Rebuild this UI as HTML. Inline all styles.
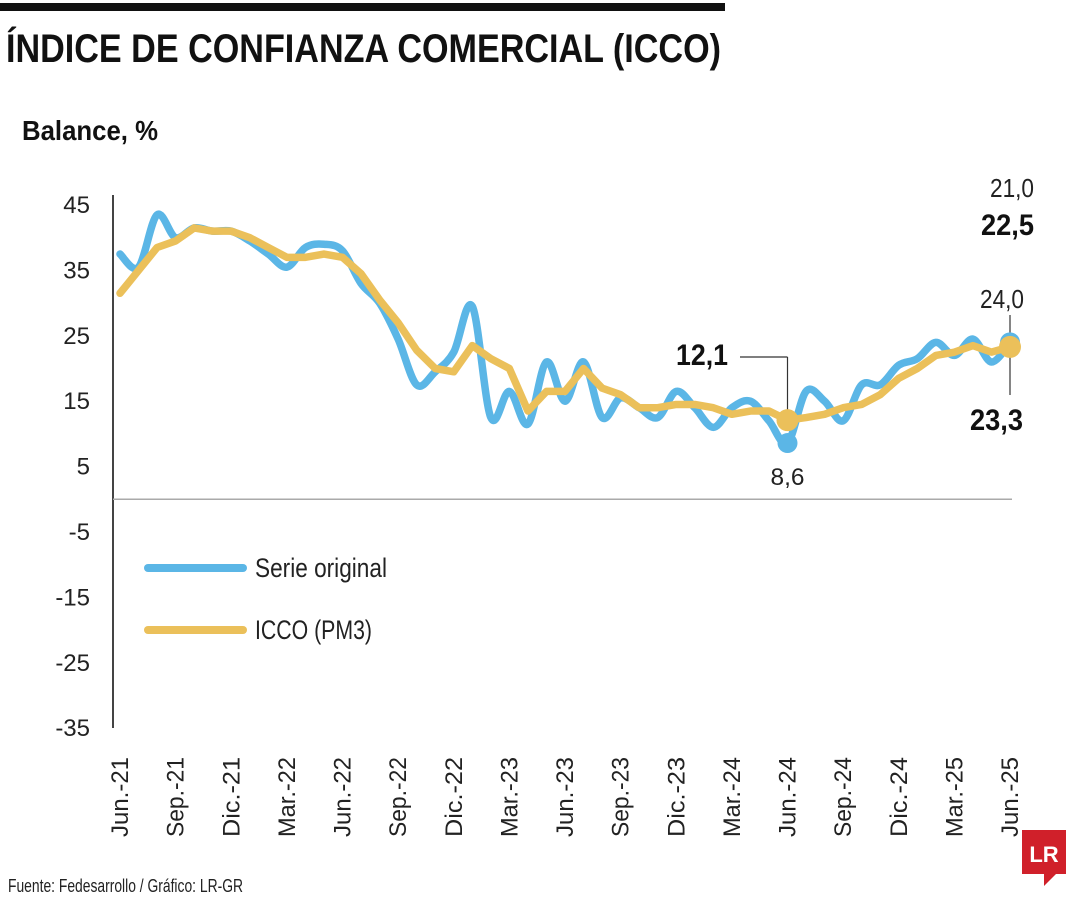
<!DOCTYPE html>
<html><head><meta charset="utf-8"><style>
body{margin:0;background:#fff;}
svg text{font-family:"Liberation Sans Narrow","Liberation Sans",sans-serif;}
</style></head><body>
<svg width="1080" height="900" viewBox="0 0 1080 900" xmlns="http://www.w3.org/2000/svg">
<rect x="0" y="3" width="725" height="8" fill="#111"/>
<text x="6" y="62" font-size="40" font-weight="bold" fill="#111" textLength="715" lengthAdjust="spacingAndGlyphs">ÍNDICE DE CONFIANZA COMERCIAL (ICCO)</text>
<text x="22" y="140" font-size="28" font-weight="bold" fill="#111" textLength="136" lengthAdjust="spacingAndGlyphs">Balance, %</text>
<g id="axes"></g>
<g id="marks"></g>
<g>
<line x1="148" y1="568" x2="243" y2="568" stroke="#5bb6e6" stroke-width="8" stroke-linecap="round"/>
<text x="255" y="577" font-size="27" fill="#222" textLength="132" lengthAdjust="spacingAndGlyphs">Serie original</text>
<line x1="148" y1="630" x2="243" y2="630" stroke="#ebc05a" stroke-width="8" stroke-linecap="round"/>
<text x="255" y="639" font-size="27" fill="#222" textLength="117" lengthAdjust="spacingAndGlyphs">ICCO (PM3)</text>
</g>
<text x="8" y="892" font-size="18" fill="#222" textLength="235" lengthAdjust="spacingAndGlyphs">Fuente: Fedesarrollo / Gráfico: LR-GR</text>
<g>
<rect x="1022" y="830" width="44" height="44" fill="#d0202a"/>
<polygon points="1044,874 1056,874 1044,886" fill="#d0202a"/>
<text x="1044" y="862" font-size="22" font-weight="bold" fill="#fff" text-anchor="middle" font-family="Liberation Serif, serif">LR</text>
</g>
</svg>
<script>
const yTicks=[45,35,25,15,5,-5,-15,-25,-35];
const xLabels=["Jun.-21","Sep.-21","Dic.-21","Mar.-22","Jun.-22","Sep.-22","Dic.-22","Mar.-23","Jun.-23","Sep.-23","Dic.-23","Mar.-24","Jun.-24","Sep.-24","Dic.-24","Mar.-25","Jun.-25"];
const original=[37.5,35.5,43.5,40,41.5,41,41,39.5,37.5,35.5,38.5,39,38,33,30,24.5,17.5,19.5,22.5,29.5,12.5,16.5,11.5,21,15,21,12.5,15.5,14,12.5,16.5,14,11,14,15,12,8.6,16.5,15,12,17.5,17.5,20.5,21.5,24,22,24.5,21,24];
const icco=[31.5,35,38.5,39.5,41.5,41,41,40,38.5,37,37,37.5,37,34.5,30.5,27,22.8,20,19.5,23.5,21.5,20,13.5,16.5,16.5,20,17,16,14,14,14.5,14.5,14,13,13.5,13.5,12.1,12.5,13,14,14.5,16,18.5,20,22,22.5,23.5,22.5,23.3];
</script>
<script>
const N=original.length;
const NS="http://www.w3.org/2000/svg";
const x0=120,x1=1010;
const xs=i=>x0+(x1-x0)*i/(N-1);
const ys=v=>205+(45-v)*6.54;
const axes=document.getElementById('axes'),marks=document.getElementById('marks');
function mk(tag,attrs,parent){const e=document.createElementNS(NS,tag);for(const k in attrs)e.setAttribute(k,attrs[k]);parent.appendChild(e);return e;}
let e=mk('line',{x1:113,y1:195,x2:113,y2:728,stroke:'#444','stroke-width':2},axes);


e=mk('line',{x1:113,y1:ys(0),x2:1012,y2:ys(0),stroke:'#aaa','stroke-width':1.5},axes);


yTicks.forEach(v=>{const t=mk('text',{x:90,y:ys(v)+8,'font-size':24,'text-anchor':'end',fill:'#222'},axes);t.textContent=v;

});
xLabels.forEach((l,i)=>{const x=xs(i*3)+8;const t=mk('text',{x:0,y:0,'font-size':24,'text-anchor':'end',fill:'#222',transform:`translate(${x},757) rotate(-90)`,textLength:80,lengthAdjust:'spacingAndGlyphs'},axes);t.textContent=l;

});
function smooth(vals){const p=vals.map((v,i)=>[xs(i),ys(v)]);let d=`M${p[0][0]},${p[0][1]}`;
for(let i=0;i<p.length-1;i++){const a=p[Math.max(0,i-1)],b=p[i],c=p[i+1],d2=p[Math.min(p.length-1,i+2)];
d+=` C${b[0]+(c[0]-a[0])/6},${b[1]+(c[1]-a[1])/6} ${c[0]-(d2[0]-b[0])/6},${c[1]-(d2[1]-b[1])/6} ${c[0]},${c[1]}`;}return d;}
function lin(vals){return vals.map((v,i)=>(i?'L':'M')+xs(i)+','+ys(v)).join(' ');}
e=mk('path',{d:smooth(original),fill:'none',stroke:'#5bb6e6','stroke-width':7.5,'stroke-linejoin':'round','stroke-linecap':'round'},marks);


e=mk('path',{d:lin(icco),fill:'none',stroke:'#ebc05a','stroke-width':7.5,'stroke-linejoin':'round','stroke-linecap':'round'},marks);


const mi=36;
e=mk('circle',{cx:xs(mi),cy:ys(original[mi]),r:10,fill:'#5bb6e6'},marks);


e=mk('line',{x1:740,y1:357,x2:xs(mi),y2:357,stroke:'#333','stroke-width':1.2},marks);


e=mk('line',{x1:xs(mi),y1:357,x2:xs(mi),y2:ys(icco[mi])-8,stroke:'#333','stroke-width':1.2},marks);


e=mk('circle',{cx:xs(mi),cy:ys(icco[mi]),r:11,fill:'#ebc05a'},marks);


let t=mk('text',{x:728,y:365,'font-size':30,'font-weight':'bold','text-anchor':'end',fill:'#111',textLength:52,lengthAdjust:'spacingAndGlyphs'},marks);t.textContent=icco[mi].toFixed(1).replace('.',',');


t=mk('text',{x:xs(mi),y:485,'font-size':24,'text-anchor':'middle',fill:'#222',textLength:34,lengthAdjust:'spacingAndGlyphs'},marks);t.textContent=original[mi].toFixed(1).replace('.',',');


const L=N-1;
e=mk('line',{x1:xs(L),y1:315,x2:xs(L),y2:ys(original[L]),stroke:'#333','stroke-width':1.2},marks);


e=mk('line',{x1:xs(L),y1:ys(icco[L]),x2:xs(L),y2:395,stroke:'#333','stroke-width':1.2},marks);


e=mk('circle',{cx:xs(L),cy:ys(original[L]),r:10,fill:'#5bb6e6'},marks);


e=mk('circle',{cx:xs(L),cy:ys(icco[L]),r:11,fill:'#ebc05a'},marks);


t=mk('text',{x:1024,y:308,'font-size':26,'text-anchor':'end',fill:'#222',textLength:44,lengthAdjust:'spacingAndGlyphs'},marks);t.textContent=original[L].toFixed(1).replace('.',',');


t=mk('text',{x:1023,y:430,'font-size':30,'font-weight':'bold','text-anchor':'end',fill:'#111',textLength:53,lengthAdjust:'spacingAndGlyphs'},marks);t.textContent=icco[L].toFixed(1).replace('.',',');


t=mk('text',{x:1034,y:197,'font-size':26,'text-anchor':'end',fill:'#222',textLength:44,lengthAdjust:'spacingAndGlyphs'},marks);t.textContent='21,0';


t=mk('text',{x:1034,y:235,'font-size':30,'font-weight':'bold','text-anchor':'end',fill:'#111',textLength:53,lengthAdjust:'spacingAndGlyphs'},marks);t.textContent='22,5';


</script>
</body></html>
